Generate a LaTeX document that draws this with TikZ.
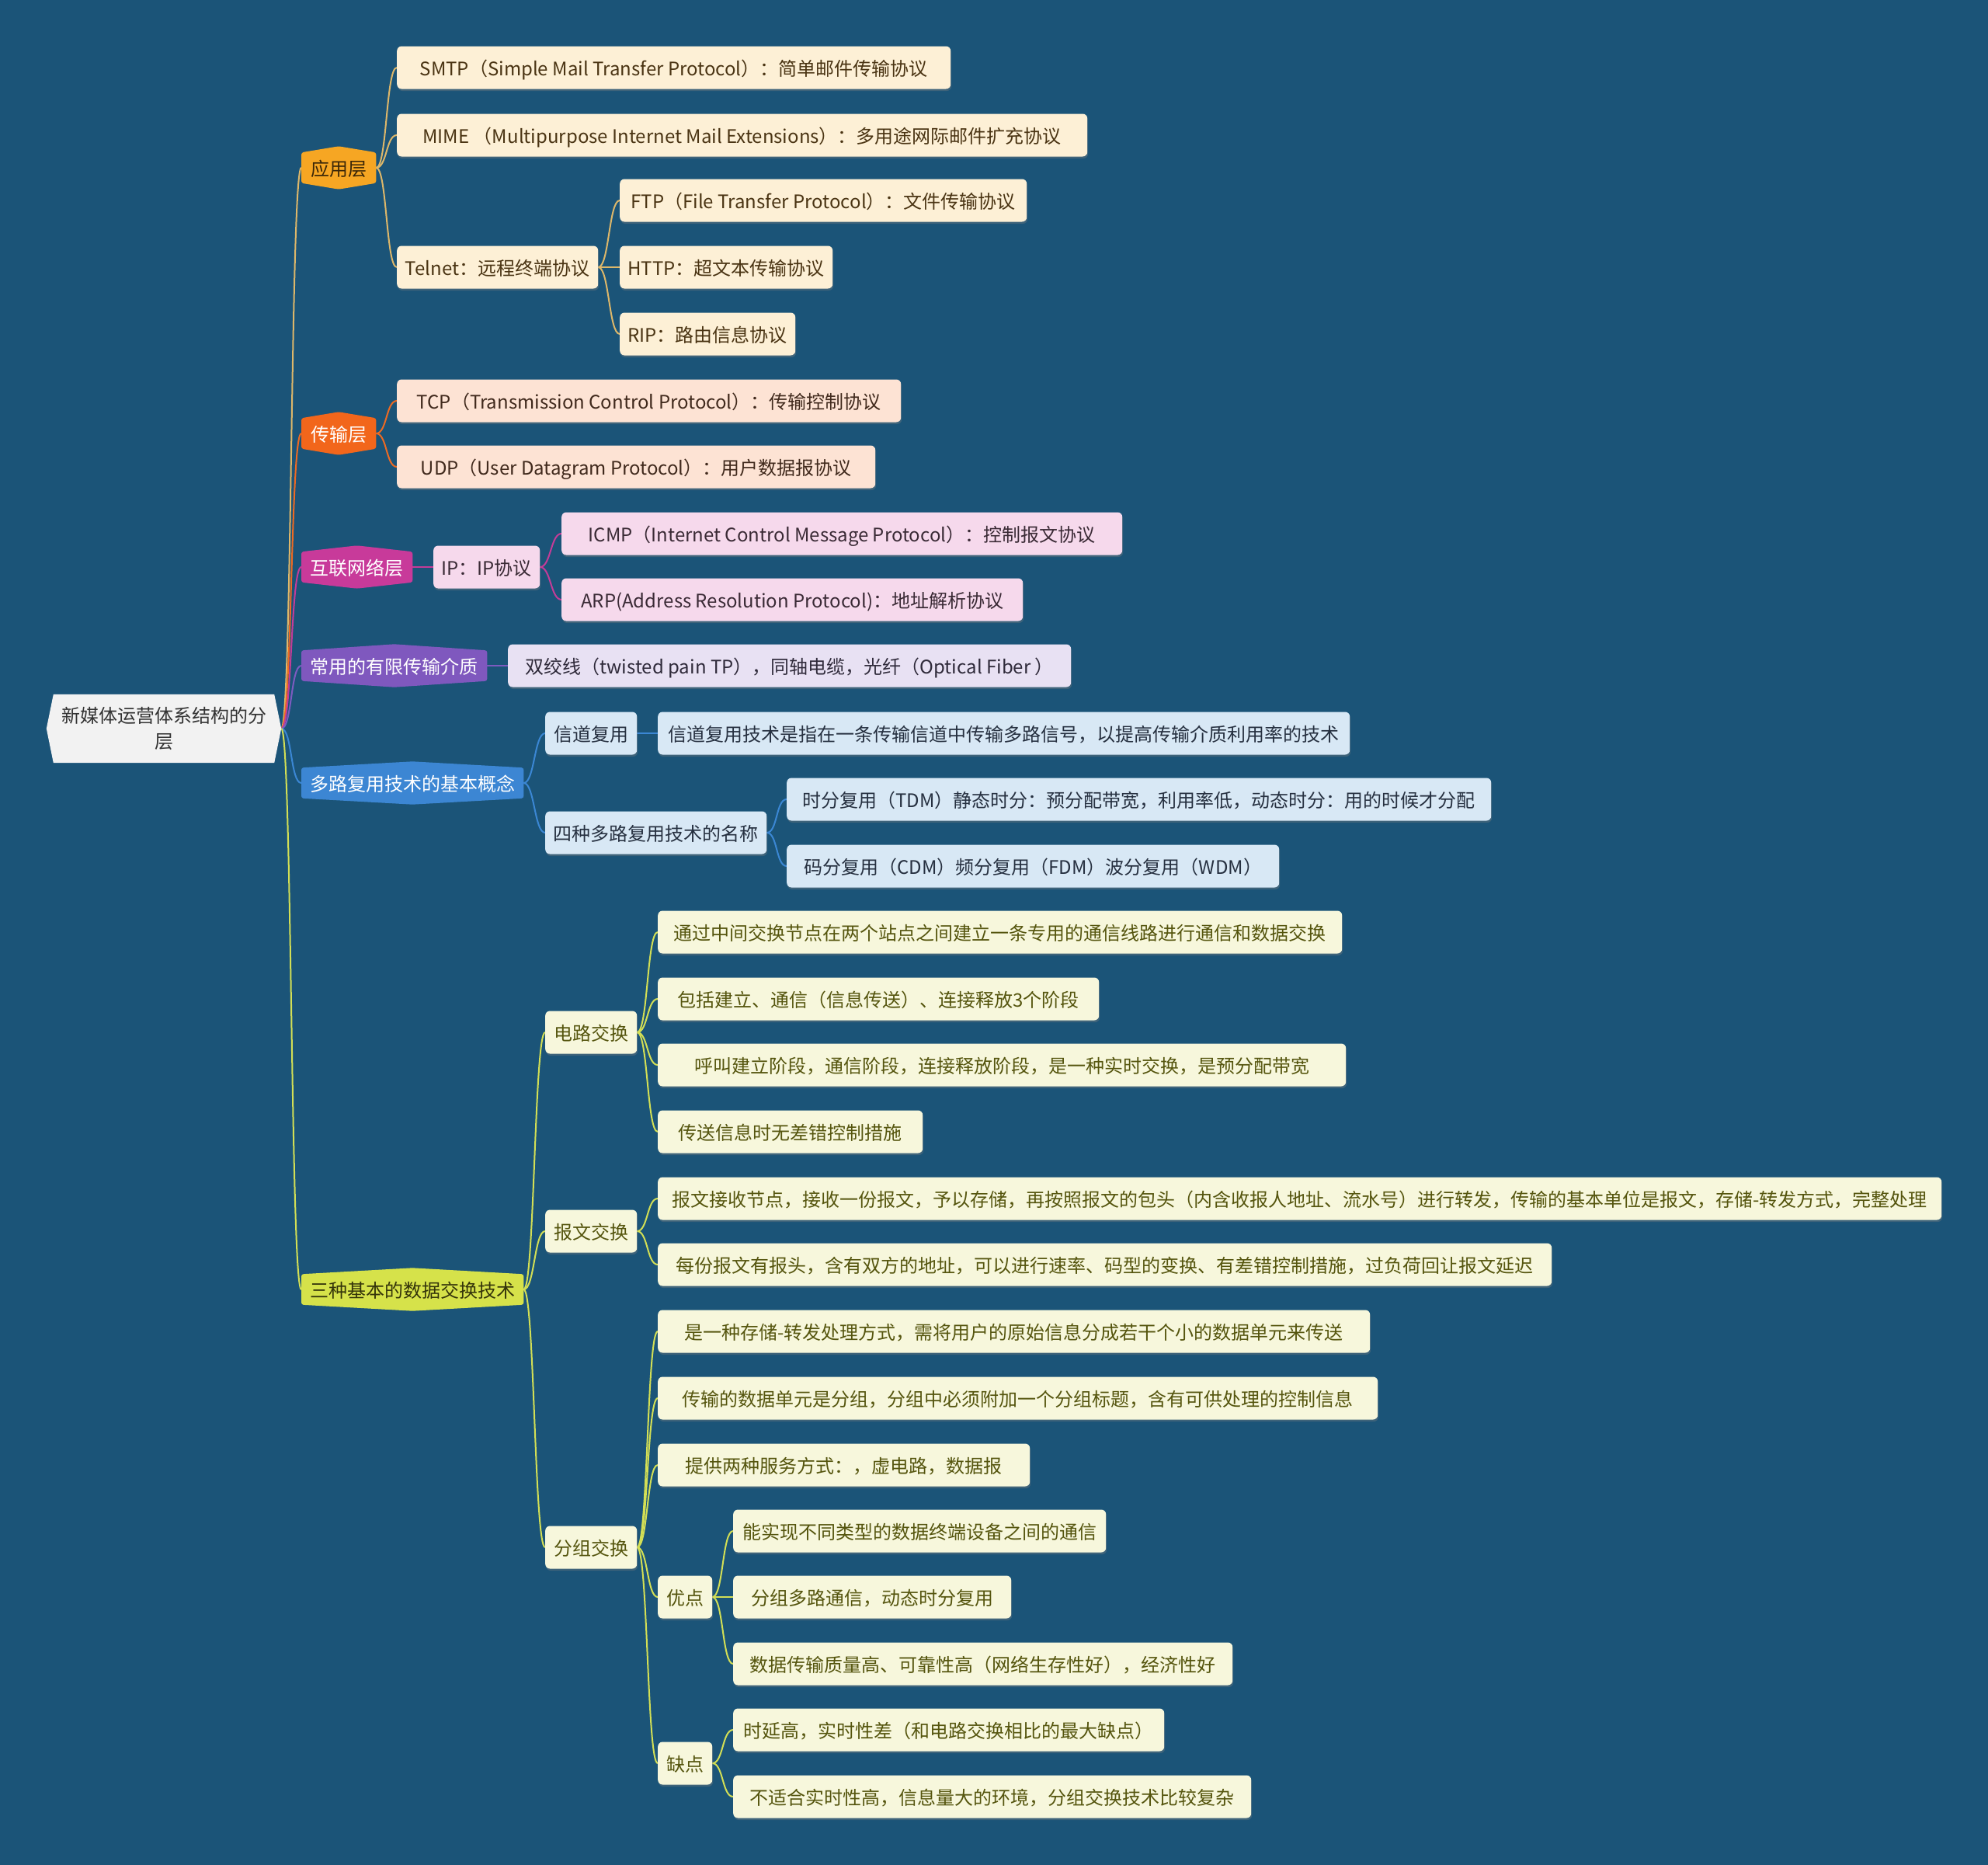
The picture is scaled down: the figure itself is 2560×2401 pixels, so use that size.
\documentclass[tikz,border=0pt]{standalone}
\usepackage{fontspec}
\setmainfont{Noto Sans CJK SC}
\usetikzlibrary{shadows}
\definecolor{bgC}{RGB}{27,84,120}
\definecolor{rootF}{HTML}{F2F2F2}
\definecolor{rootT}{HTML}{333333}
\definecolor{appF}{HTML}{F6A623}
\definecolor{appT}{HTML}{3A2608}
\definecolor{appL}{HTML}{FDF0D6}
\definecolor{appLT}{HTML}{4A3413}
\definecolor{appC}{HTML}{DDB76A}
\definecolor{trF}{HTML}{F2661B}
\definecolor{trL}{HTML}{FDE3D4}
\definecolor{trLT}{HTML}{40291C}
\definecolor{trC}{HTML}{EE6A22}
\definecolor{inF}{HTML}{C83A9A}
\definecolor{inL}{HTML}{F6D9EC}
\definecolor{inLT}{HTML}{3A2A35}
\definecolor{inC}{HTML}{C43C98}
\definecolor{meF}{HTML}{7F58BE}
\definecolor{meL}{HTML}{E8E1F3}
\definecolor{meLT}{HTML}{2F2A3A}
\definecolor{meC}{HTML}{7D5BC0}
\definecolor{muF}{HTML}{3C86D3}
\definecolor{muL}{HTML}{D8E8F5}
\definecolor{muLT}{HTML}{263040}
\definecolor{muC}{HTML}{3B87D4}
\definecolor{swF}{HTML}{D6E24A}
\definecolor{swT}{HTML}{34340A}
\definecolor{swL}{HTML}{F7F7DC}
\definecolor{swLT}{HTML}{55550E}
\definecolor{swC}{HTML}{D3DF55}
\pgfdeclarelayer{bglayer}
\pgfdeclarelayer{edges}
\pgfdeclarelayer{shapes}
\pgfsetlayers{bglayer,edges,shapes,main}
\newcommand\fz{\fontsize{24pt}{30pt}\selectfont}
\tikzset{
  leaf/.style={rounded corners=6pt, minimum height=55pt, inner sep=0pt, anchor=west, align=center, font=\fz,
    text height=23pt, text depth=3pt,
    drop shadow={shadow xshift=1pt, shadow yshift=-2.5pt, opacity=0.35}},
  appleaf/.style={leaf, fill=appL, text=appLT},
  trleaf/.style={leaf, fill=trL, text=trLT},
  inleaf/.style={leaf, fill=inL, text=inLT},
  meleaf/.style={leaf, fill=meL, text=meLT},
  muleaf/.style={leaf, fill=muL, text=muLT},
  swleaf/.style={leaf, fill=swL, text=swLT},
  lonebox/.style={anchor=west, minimum height=39pt, inner sep=0pt, font=\fz, text height=23pt, text depth=3pt},
  rootbox/.style={minimum width=302pt, minimum height=88pt, inner sep=0pt, align=center,
    font=\fontsize{24pt}{33pt}\selectfont, text=rootT},
  edge/.style={line width=2pt}
}
\newcommand\lone[7]{%
  \node[lonebox, minimum width=#4pt, text=#6] (#1) at (#2,#3) {#7};
  \begin{pgfonlayer}{shapes}
    \fill[#5, rounded corners=3pt] (#1.north west) -- ([yshift=8pt]#1.north) -- (#1.north east)
      -- (#1.south east) -- ([yshift=-8pt]#1.south) -- (#1.south west) -- cycle;
  \end{pgfonlayer}}
\newcommand\cn[3]{\draw[edge,#1] (#2.east) to[out=0,in=180,distance=14pt] (#3.west);}
\begin{document}
\begin{tikzpicture}[x=1pt,y=-1pt]
\begin{pgfonlayer}{bglayer}
  \fill[bgC] (0,0) rectangle (2560,2401);
\end{pgfonlayer}
\useasboundingbox (0,0) rectangle (2560,2401);

% root
\node[rootbox] (root) at (211,938) {新媒体运营体系结构的分\\层};
\begin{pgfonlayer}{shapes}
  \fill[rootF] ([xshift=9pt]root.north west) -- ([xshift=-9pt]root.north east) -- (root.east)
    -- ([xshift=-9pt]root.south east) -- ([xshift=9pt]root.south west) -- (root.west) -- cycle;
\end{pgfonlayer}

% level one
\lone{app}{388}{216}{96}{appF}{appT}{应用层}
\lone{trans}{388}{558}{96}{trF}{white}{传输层}
\lone{inet}{388}{730}{143}{inF}{white}{互联网络层}
\lone{media}{388}{857}{239}{meF}{white}{常用的有限传输介质}
\lone{mux}{388}{1008}{286}{muF}{white}{多路复用技术的基本概念}
\lone{sw}{388}{1660}{286}{swF}{swT}{三种基本的数据交换技术}

% application layer
\node[appleaf, minimum width=713pt] (smtp) at (511,87) {SMTP（Simple Mail Transfer Protocol）：简单邮件传输协议};
\node[appleaf, minimum width=889pt] (mime) at (511,174) {MIME （Multipurpose Internet Mail Extensions）：多用途网际邮件扩充协议};
\node[appleaf, minimum width=259pt] (telnet) at (511,344) {Telnet：远程终端协议};
\node[appleaf, minimum width=524pt] (ftp) at (798,258) {FTP（File Transfer Protocol）：文件传输协议};
\node[appleaf, minimum width=274pt] (http) at (798,344) {HTTP：超文本传输协议};
\node[appleaf, minimum width=226pt] (rip) at (798,430) {RIP：路由信息协议};

% transport layer
\node[trleaf, minimum width=649pt] (tcp) at (511,516) {TCP（Transmission Control Protocol）：传输控制协议};
\node[trleaf, minimum width=616pt] (udp) at (511,601) {UDP（User Datagram Protocol）：用户数据报协议};

% internet layer
\node[inleaf, minimum width=137pt] (ip) at (558,730) {IP：IP协议};
\node[inleaf, minimum width=722pt] (icmp) at (723,687) {ICMP（Internet Control Message Protocol）：控制报文协议};
\node[inleaf, minimum width=594pt] (arp) at (723,772) {ARP(Address Resolution Protocol)：地址解析协议};

% media
\node[meleaf, minimum width=725pt] (twisted) at (654,857) {双绞线（twisted pain TP），同轴电缆，光纤（Optical Fiber ）};

% multiplexing
\node[muleaf, minimum width=118pt] (chmux) at (702,944) {信道复用};
\node[muleaf, minimum width=891pt] (chdesc) at (847,944) {信道复用技术是指在一条传输信道中传输多路信号，以提高传输介质利用率的技术};
\node[muleaf, minimum width=285pt] (four) at (702,1072) {四种多路复用技术的名称};
\node[muleaf, minimum width=907pt] (tdm) at (1013,1029) {时分复用（TDM）静态时分：预分配带宽，利用率低，动态时分：用的时候才分配};
\node[muleaf, minimum width=634pt] (cdm) at (1013,1115) {码分复用（CDM）频分复用（FDM）波分复用（WDM）};

% switching
\node[swleaf, minimum width=118pt] (circ) at (702,1329) {电路交换};
\node[swleaf, minimum width=881pt] (c1) at (847,1200) {通过中间交换节点在两个站点之间建立一条专用的通信线路进行通信和数据交换};
\node[swleaf, minimum width=568pt] (c2) at (847,1286) {包括建立、通信（信息传送）、连接释放3个阶段};
\node[swleaf, minimum width=886pt] (c3) at (847,1371) {呼叫建立阶段，通信阶段，连接释放阶段，是一种实时交换，是预分配带宽};
\node[swleaf, minimum width=341pt] (c4) at (847,1457) {传送信息时无差错控制措施};
\node[swleaf, minimum width=118pt] (msg) at (702,1585) {报文交换};
\node[swleaf, minimum width=1653pt] (m1) at (847,1543) {报文接收节点，接收一份报文，予以存储，再按照报文的包头（内含收报人地址、流水号）进行转发，传输的基本单位是报文，存储-转发方式，完整处理};
\node[swleaf, minimum width=1151pt] (m2) at (847,1628) {每份报文有报头，含有双方的地址，可以进行速率、码型的变换、有差错控制措施，过负荷回让报文延迟};
\node[swleaf, minimum width=118pt] (pkt) at (702,1992) {分组交换};
\node[swleaf, minimum width=917pt] (p1) at (847,1714) {是一种存储-转发处理方式，需将用户的原始信息分成若干个小的数据单元来传送};
\node[swleaf, minimum width=927pt] (p2) at (847,1800) {传输的数据单元是分组，分组中必须附加一个分组标题，含有可供处理的控制信息};
\node[swleaf, minimum width=479pt] (p3) at (847,1886) {提供两种服务方式：，虚电路，数据报};
\node[swleaf, minimum width=70pt] (good) at (847,2056) {优点};
\node[swleaf, minimum width=480pt] (g1) at (944,1971) {能实现不同类型的数据终端设备之间的通信};
\node[swleaf, minimum width=358pt] (g2) at (944,2056) {分组多路通信，动态时分复用};
\node[swleaf, minimum width=643pt] (g3) at (944,2142) {数据传输质量高、可靠性高（网络生存性好），经济性好};
\node[swleaf, minimum width=70pt] (bad) at (847,2270) {缺点};
\node[swleaf, minimum width=555pt] (b1) at (944,2227) {时延高，实时性差（和电路交换相比的最大缺点）};
\node[swleaf, minimum width=667pt] (b2) at (944,2313) {不适合实时性高，信息量大的环境，分组交换技术比较复杂};

% connectors
\begin{pgfonlayer}{edges}
  \cn{appC}{root}{app}
  \cn{trC}{root}{trans}
  \cn{inC}{root}{inet}
  \cn{meC}{root}{media}
  \cn{muC}{root}{mux}
  \cn{swC}{root}{sw}
  \cn{appC}{app}{smtp}
  \cn{appC}{app}{mime}
  \cn{appC}{app}{telnet}
  \cn{appC}{telnet}{ftp}
  \cn{appC}{telnet}{http}
  \cn{appC}{telnet}{rip}
  \cn{trC}{trans}{tcp}
  \cn{trC}{trans}{udp}
  \cn{inC}{inet}{ip}
  \cn{inC}{ip}{icmp}
  \cn{inC}{ip}{arp}
  \cn{meC}{media}{twisted}
  \cn{muC}{mux}{chmux}
  \cn{muC}{mux}{four}
  \cn{muC}{chmux}{chdesc}
  \cn{muC}{four}{tdm}
  \cn{muC}{four}{cdm}
  \cn{swC}{sw}{circ}
  \cn{swC}{sw}{msg}
  \cn{swC}{sw}{pkt}
  \cn{swC}{circ}{c1}
  \cn{swC}{circ}{c2}
  \cn{swC}{circ}{c3}
  \cn{swC}{circ}{c4}
  \cn{swC}{msg}{m1}
  \cn{swC}{msg}{m2}
  \cn{swC}{pkt}{p1}
  \cn{swC}{pkt}{p2}
  \cn{swC}{pkt}{p3}
  \cn{swC}{pkt}{good}
  \cn{swC}{pkt}{bad}
  \cn{swC}{good}{g1}
  \cn{swC}{good}{g2}
  \cn{swC}{good}{g3}
  \cn{swC}{bad}{b1}
  \cn{swC}{bad}{b2}
\end{pgfonlayer}
\end{tikzpicture}
\end{document}
